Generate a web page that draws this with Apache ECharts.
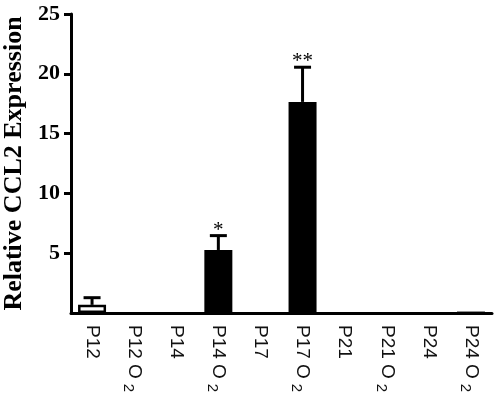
<!DOCTYPE html>
<html>
<head>
<meta charset="utf-8">
<script src="https://cdn.jsdelivr.net/npm/echarts@6/dist/echarts.min.js"></script>
<style>html,body{margin:0;padding:0;background:#fff}#c{width:500px;height:406px}</style>
</head>
<body>
<div id="c"></div>
<script>
const categories = ['P12', 'P12 O{sub|2}', 'P14', 'P14 O{sub|2}', 'P17', 'P17 O{sub|2}', 'P21', 'P21 O{sub|2}', 'P24', 'P24 O{sub|2}'];
const means = [0.68, 0, 0, 5.27, 0, 17.65, 0, 0, 0, 0.12];
const errors = [0.6, 0, 0, 1.2, 0, 2.9, 0, 0, 0, 0];
const stars = ['', '', '', '*', '', '**', '', '', '', ''];
const yTicks = [0, 5, 10, 15, 20, 25];

const SERIF = '"Liberation Serif", "Times New Roman", serif';
const SANS = '"Liberation Sans", Arial, sans-serif';
const chart = echarts.init(document.getElementById('c'), null, {renderer: 'canvas'});

const barData = means.map((v, i) => i === 0
  ? {value: v, itemStyle: {color: '#fff', borderColor: '#000', borderWidth: 2.5}}
  : {value: v, itemStyle: {color: '#000'}});

chart.setOption({
  animation: false,
  backgroundColor: '#fff',
  grid: {left: 71, right: 8, top: 14, bottom: 93, containLabel: false, outerBoundsMode: 'none'},
  xAxis: {
    type: 'category',
    data: categories,
    axisLine: {lineStyle: {color: '#000', width: 3}},
    axisTick: {alignWithLabel: true, length: 8, lineStyle: {color: '#000', width: 3}},
    axisLabel: {
      rotate: -90, margin: 12, color: '#111', fontFamily: SANS, fontSize: 19,
      rich: {sub: {fontSize: 15, verticalAlign: 'bottom', fontFamily: SANS, color: '#111', padding: [12, 0, 0, 5]}}
    }
  },
  yAxis: {
    type: 'value', min: yTicks[0], max: yTicks[yTicks.length - 1], interval: 5,
    name: 'Relative CCL2 Expression', nameLocation: 'middle', nameGap: 43,
    nameTextStyle: {fontFamily: SERIF, fontWeight: 'bold', fontSize: 26, color: '#000'},
    axisLine: {show: true, lineStyle: {color: '#000', width: 3}},
    axisTick: {show: true, length: 7, lineStyle: {color: '#000', width: 3}},
    axisLabel: {showMinLabel: false, margin: 11, color: '#000', fontFamily: SERIF, fontWeight: 'bold', fontSize: 22},
    splitLine: {show: false}
  },
  series: [
    {type: 'bar', data: barData, barWidth: 28, z: 2},
    {
      type: 'custom', z: 3,
      data: means.map((m, i) => [i, m, errors[i]]),
      renderItem: function (params, api) {
        const i = api.value(0), m = api.value(1), e = api.value(2);
        if (!e) return null;
        const p0 = api.coord([i, m]);
        const p1 = api.coord([i, m + e]);
        const hw = 8.5;
        const children = [
          {type: 'line', shape: {x1: p0[0], y1: p0[1], x2: p1[0], y2: p1[1]}, style: {stroke: '#000', lineWidth: 3}},
          {type: 'line', shape: {x1: p1[0] - hw, y1: p1[1], x2: p1[0] + hw, y2: p1[1]}, style: {stroke: '#000', lineWidth: 3}}
        ];
        const s = stars[i];
        if (s) children.push({type: 'text', x: p1[0], y: p1[1] + 5, style: {text: s, fill: '#000', font: '21px ' + SERIF, align: 'center', verticalAlign: 'bottom'}});
        return {type: 'group', children: children};
      }
    }
  ]
});
</script>
</body>
</html>
